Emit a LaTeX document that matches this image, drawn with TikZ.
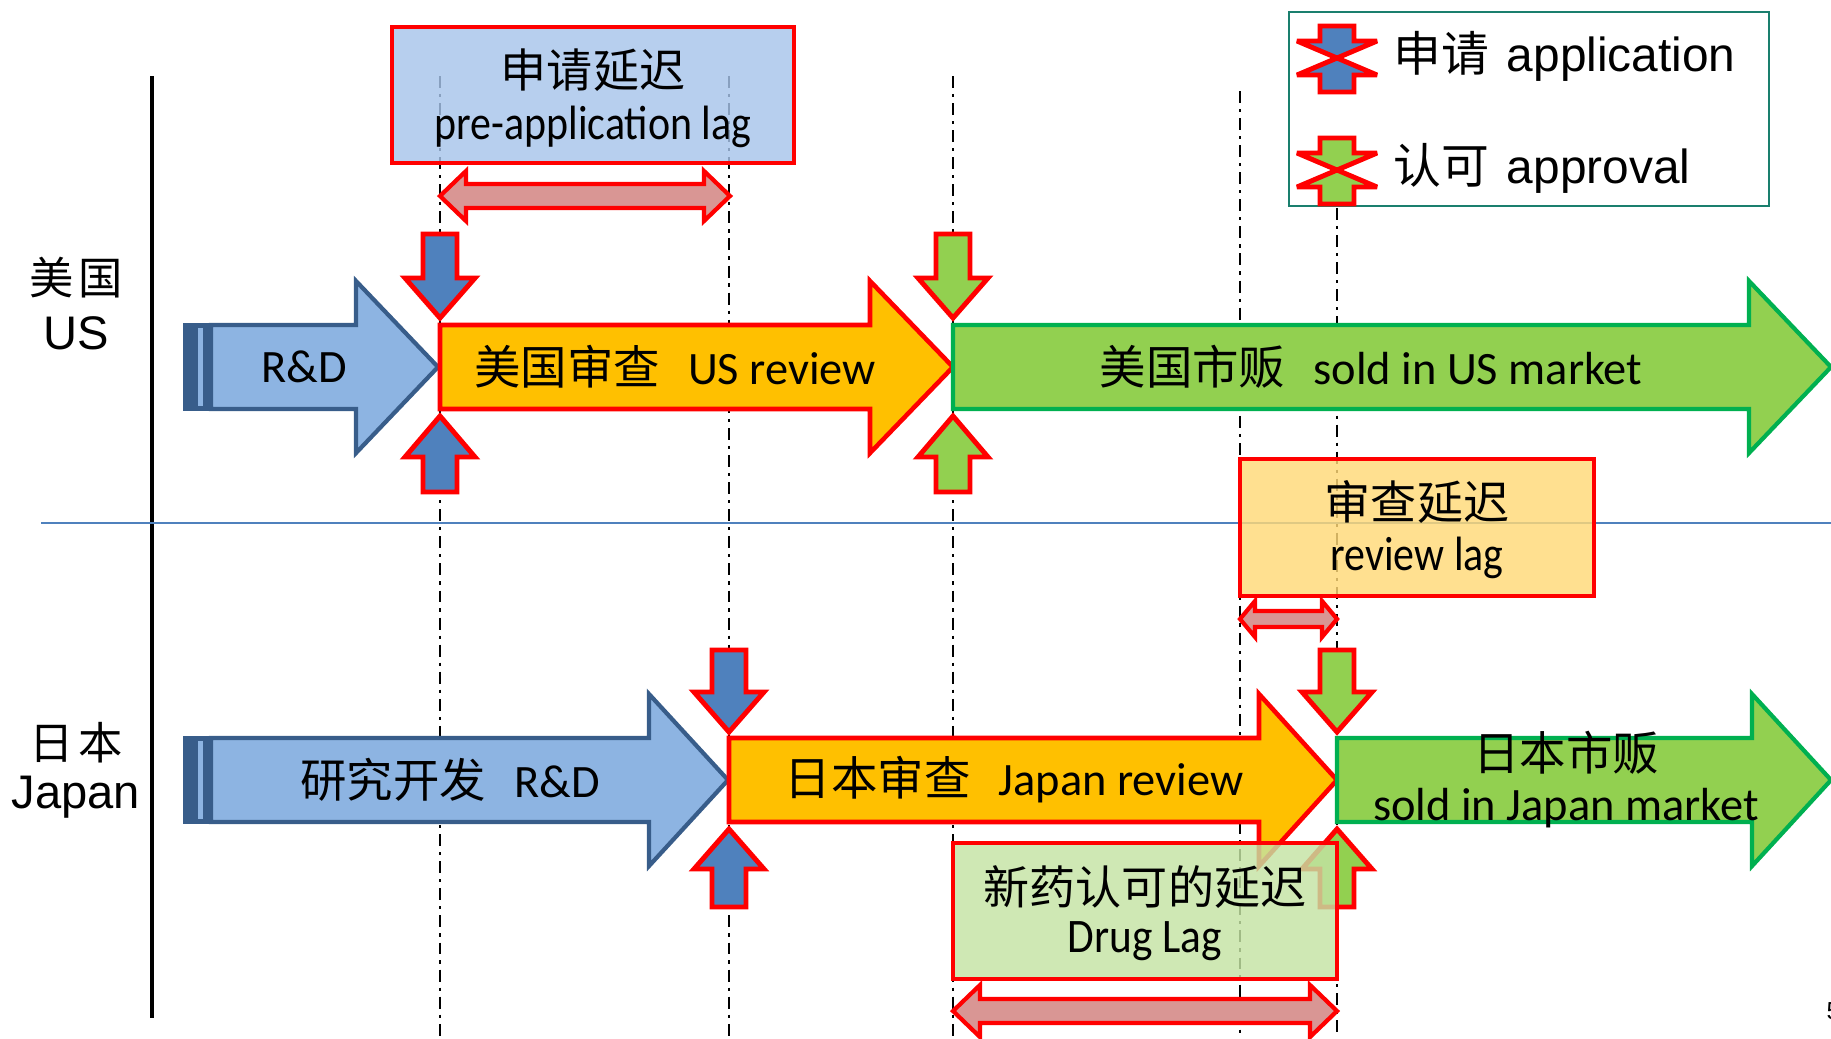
\documentclass[tikz,border=0pt]{standalone}
\usepackage{fontspec}
\usepackage{graphicx}
\setmainfont{Carlito}
\newfontfamily\arialfont{Liberation Sans}
\newfontfamily\cjk{Noto Sans CJK SC}

\definecolor{rdfill}{HTML}{8DB4E2}
\definecolor{rdline}{HTML}{385D8A}
\definecolor{revfill}{HTML}{FFC000}
\definecolor{mktfill}{HTML}{92D050}
\definecolor{mktline}{HTML}{00B050}
\definecolor{appfill}{HTML}{4F81BD}
\definecolor{lagred}{HTML}{FF0000}
\definecolor{spanfill}{HTML}{D99694}
\definecolor{prebox}{HTML}{A7C4EA}
\definecolor{revbox}{HTML}{FFD977}
\definecolor{drugbox}{HTML}{C4E3A3}
\definecolor{legline}{HTML}{1A7F6E}
\definecolor{sepline}{HTML}{4F81BD}

% right-pointing block arrow: style, x start, x head base, x tip, y centre, shaft half, head half
\newcommand\rightblock[7]{%
  \draw[#1] (#2,#5-#6) -- (#3,#5-#6) -- (#3,#5-#7) -- (#4,#5) -- (#3,#5+#7)
    -- (#3,#5+#6) -- (#2,#5+#6) -- cycle;}
% vertical block arrow: style, x, y tail, y head base, y tip, shaft half, head half
\newcommand\vblock[7]{%
  \draw[#1] (#2-#6,#3) -- (#2+#6,#3) -- (#2+#6,#4) -- (#2+#7,#4) -- (#2,#5)
    -- (#2-#7,#4) -- (#2-#6,#4) -- cycle;}
% double-headed span arrow: style, x left, x right, y, shaft half, head half, head length
\newcommand\spanarrow[7]{%
  \draw[#1] (#2,#4) -- (#2+#7,#4-#6) -- (#2+#7,#4-#5) -- (#3-#7,#4-#5) -- (#3-#7,#4-#6)
    -- (#3,#4) -- (#3-#7,#4+#6) -- (#3-#7,#4+#5) -- (#2+#7,#4+#5) -- (#2+#7,#4+#6) -- cycle;}
% two stripes at the tail of a striped arrow: y centre, shaft half
\newcommand\tailstripes[2]{%
  \fill[rdline] (183,#1-#2-2) rectangle (213,#1+#2+2);
  \fill[rdfill] (198,#1-#2+3) rectangle (203,#1+#2-3);}

\tikzset{
  timeline/.style={black, line width=0.7pt, dash pattern=on 3.4pt off 1.7pt on 0.9pt off 1.7pt},
  rdarrow/.style={fill=rdfill, draw=rdline, line width=1.2pt, line join=miter},
  revarrow/.style={fill=revfill, draw=lagred, line width=1.3pt, line join=miter},
  mktarrow/.style={fill=mktfill, draw=mktline, line width=1.2pt, line join=miter},
  appmark/.style={fill=appfill, draw=lagred, line width=1.4pt, line join=miter},
  okmark/.style={fill=mktfill, draw=lagred, line width=1.4pt, line join=miter},
  spanmark/.style={fill=spanfill, draw=lagred, line width=1.2pt, line join=miter},
  legmark/.style={draw=lagred, line width=1.4pt, line join=miter, miter limit=2.2},
  lagbox/.style={draw=lagred, line width=1pt, fill opacity=0.82},
  armtxt/.style={inner sep=0pt, font=\fontsize{13.2pt}{15pt}\selectfont},
  lagcn/.style={inner sep=0pt, font=\cjk\fontsize{13.1pt}{15pt}\selectfont},
  lagen/.style={inner sep=0pt, font=\fontsize{13.7pt}{16pt}\selectfont},
  sidetxt/.style={inner sep=0pt, font=\arialfont\fontsize{13.4pt}{16pt}\selectfont},
  legtxt/.style={inner sep=0pt, anchor=west, font=\arialfont\fontsize{13.6pt}{16pt}\selectfont},
}

\begin{document}
\begin{tikzpicture}[x=0.01cm, y=-0.01cm]
\useasboundingbox (0,0) rectangle (1831,1038);

% milestone guide lines
\draw[timeline] (440,76) -- (440,1038);
\draw[timeline] (729,76) -- (729,1038);
\draw[timeline] (953,76) -- (953,1038);
\draw[timeline] (1240,91) -- (1240,1038);
\draw[timeline] (1337,208) -- (1337,1038);

% axis and country separator
\draw[black, line width=1.15pt] (152,76) -- (152,1018);
\draw[sepline, line width=0.75pt] (41,523) -- (1831,523);

\node[sidetxt] (uscn) at (76,278) {{\cjk\fontsize{12.6pt}{15pt}\selectfont 美\hspace{1.5pt}国}};
\node[sidetxt] (usen) at (76,333) {US};
\node[sidetxt] (jpcn) at (76,743) {{\cjk\fontsize{12.6pt}{15pt}\selectfont 日\hspace{1.5pt}本}};
\node[sidetxt] (jpen) at (76,797) {Japan};

% ---- US row ----
\rightblock{rdarrow}{211}{356}{438}{367}{42}{86}
\tailstripes{367}{42}
\rightblock{revarrow}{440}{870}{953}{367}{42}{86}
\rightblock{mktarrow}{953}{1749}{1831}{367}{42}{86}
\node[armtxt] (usrd)  at (304,367) {R\&D};
\node[armtxt] (usrev) at (675,367) {{\cjk 美国审查}\hspace{8pt}US review};
\node[armtxt] (usmkt) at (1371,367) {{\cjk 美国市贩}\hspace{8pt}sold in US market};

\vblock{appmark}{440}{234}{278}{318}{17}{35}
\vblock{appmark}{440}{492}{457}{416}{17}{35}
\vblock{okmark}{953}{234}{278}{318}{17}{35}
\vblock{okmark}{953}{492}{457}{416}{17}{35}

% ---- Japan row ----
\rightblock{rdarrow}{211}{649}{728}{780}{42}{86}
\tailstripes{780}{42}
\rightblock{revarrow}{729}{1259}{1337}{780}{42}{86}
\rightblock{mktarrow}{1337}{1752}{1831}{780}{42}{86}
\node[armtxt] (jprd)  at (450,780) {{\cjk 研究开发}\hspace{8pt}R\&D};
\node[armtxt] (jprev) at (1014,780) {{\cjk 日本审查}\hspace{8pt}Japan review};
\node[armtxt] (jpmktcn) at (1566,753) {{\cjk 日本市贩}};
\node[armtxt] (jpmkten) at (1566,808) {sold in Japan market};

\vblock{appmark}{729}{650}{692}{732}{17}{35}
\vblock{appmark}{729}{907}{869}{829}{17}{35}
\vblock{okmark}{1337}{650}{692}{732}{17}{35}
\vblock{okmark}{1337}{907}{869}{829}{17}{35}

% ---- lag annotations ----
\draw[lagbox, fill=prebox] (392,27) rectangle (794,163);
\node[lagcn] (precn) at (593,70) {申请延迟};
\node[lagen] (preen) at (593,127) {\scalebox{0.87}[1]{pre-application lag}};
\spanarrow{spanmark}{440}{730}{196}{12}{25}{26}

\draw[lagbox, fill=revbox] (1240,459) rectangle (1594,596);
\node[lagcn] (revcn) at (1417,502) {审查延迟};
\node[lagen] (reven) at (1417,558) {\scalebox{0.87}[1]{review lag}};
\spanarrow{spanmark}{1240}{1337}{619}{8}{18}{15}

\draw[lagbox, fill=drugbox] (953,843) rectangle (1337,979);
\node[lagcn] (drugcn) at (1145,887) {新药认可的延迟};
\node[lagen] (drugen) at (1145,941) {\scalebox{0.9}[1]{Drug Lag}};
\spanarrow{spanmark}{953}{1337}{1011}{12}{26}{27}

% ---- legend: a down and an up marker meeting tip to tip ----
\draw[legline, line width=0.7pt, fill=white] (1289,12) rectangle (1769,206);
\foreach \cy/\fc in {58/appfill, 170/mktfill} {
  \vblock{fill=\fc, draw=none}{1337}{\cy-32}{\cy-17}{\cy}{17}{40}
  \vblock{fill=\fc, draw=none}{1337}{\cy+34}{\cy+17}{\cy}{17}{40}
  \vblock{legmark}{1337}{\cy-32}{\cy-17}{\cy}{17}{40}
  \vblock{legmark}{1337}{\cy+34}{\cy+17}{\cy}{17}{40}
}
\node[legtxt] (legapp) at (1393,56) {{\cjk 申请}\hspace{5pt}application};
\node[legtxt] (legok)  at (1393,168) {{\cjk 认可}\hspace{5pt}approval};

% page number at the edge
\node[inner sep=0pt, anchor=west, font=\arialfont\fontsize{7pt}{8pt}\selectfont] (pageno) at (1826,1011) {5};
\end{tikzpicture}
\end{document}
